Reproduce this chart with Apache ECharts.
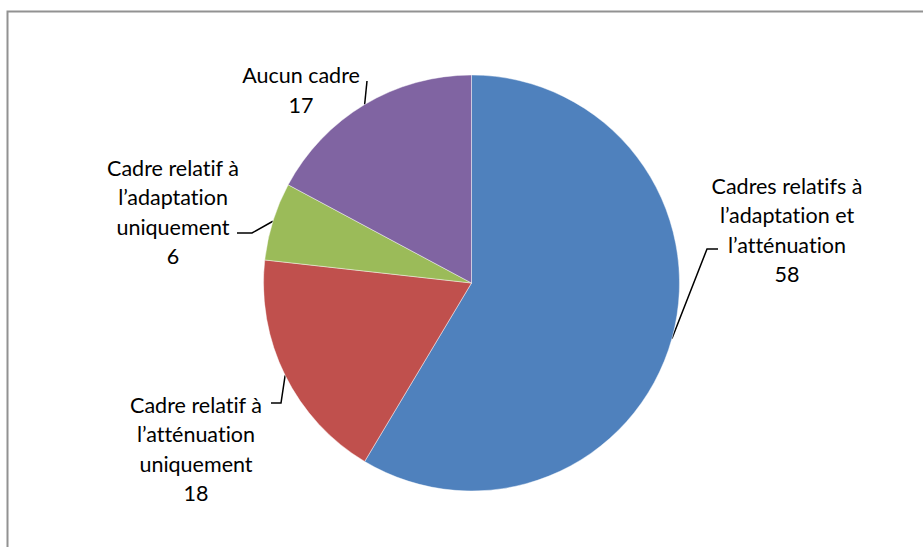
<!DOCTYPE html>
<html>
<head>
<meta charset="utf-8">
<script src="https://cdn.jsdelivr.net/npm/echarts@6/dist/echarts.min.js"></script>
<style>
  html, body { margin: 0; padding: 0; background: #fff; }
  #chart { width: 923px; height: 547px; }
  #chart text { font-variant-ligatures: none; font-feature-settings: "liga" 0, "clig" 0; }
</style>
</head>
<body>
<div id="chart"></div>
<script>
// Categories and counts, in clockwise order starting from 12 o'clock
const categories = [
  "Cadres relatifs à\nl’adaptation et\nl’atténuation",
  "Cadre relatif à\nl’atténuation\nuniquement",
  "Cadre relatif à\nl’adaptation\nuniquement",
  "Aucun cadre"
];
const values = [58, 18, 6, 17];
const colors = ["#4F81BD", "#C0504D", "#9BBB59", "#8064A2"];

// Label block centres and leader-line elbow/end points (pixels)
const labelCentres = [[787, 230], [196, 449], [173, 212], [301, 90]];
const leaderElbows = [[707, 249], [281, 403], [252, 233], [367, 81]];
const leaderEnds   = [[718, 249], [271, 403], [237, 233], [367, 81]];

const chart = echarts.init(document.getElementById("chart"), null, { renderer: "svg" });

chart.setOption({
  backgroundColor: "#ffffff",
  animation: false,
  graphic: [{
    type: "rect",
    shape: { x: 7.5, y: 11.5, width: 1000, height: 1000 },
    style: { fill: null, stroke: "#929292", lineWidth: 2 },
    silent: true,
    z: 0
  }],
  series: [{
    type: "pie",
    center: [471.5, 283],
    radius: [0, 208],
    startAngle: 90,
    clockwise: true,
    avoidLabelOverlap: false,
    data: categories.map((name, i) => ({
      name: name,
      value: values[i],
      itemStyle: { color: colors[i] }
    })),
    itemStyle: { borderColor: "rgba(255,255,255,0.55)", borderWidth: 0.8 },
    label: {
      show: true,
      position: "outside",
      formatter: "{b}\n{c}",
      fontFamily: "Lato, 'Open Sans', sans-serif",
      fontSize: 21.5,
      lineHeight: 29.5,
      color: "#000",
      align: "center"
    },
    labelLine: {
      show: true,
      lineStyle: { color: "#000", width: 1.5 }
    },
    labelLayout: function (params) {
      const i = params.dataIndex;
      const start = params.labelLinePoints ? params.labelLinePoints[0] : leaderElbows[i];
      return {
        x: labelCentres[i][0],
        y: labelCentres[i][1],
        align: "center",
        verticalAlign: "middle",
        labelLinePoints: [start, leaderElbows[i], leaderEnds[i]]
      };
    },
    emphasis: { disabled: true }
  }]
});
</script>
</body>
</html>
